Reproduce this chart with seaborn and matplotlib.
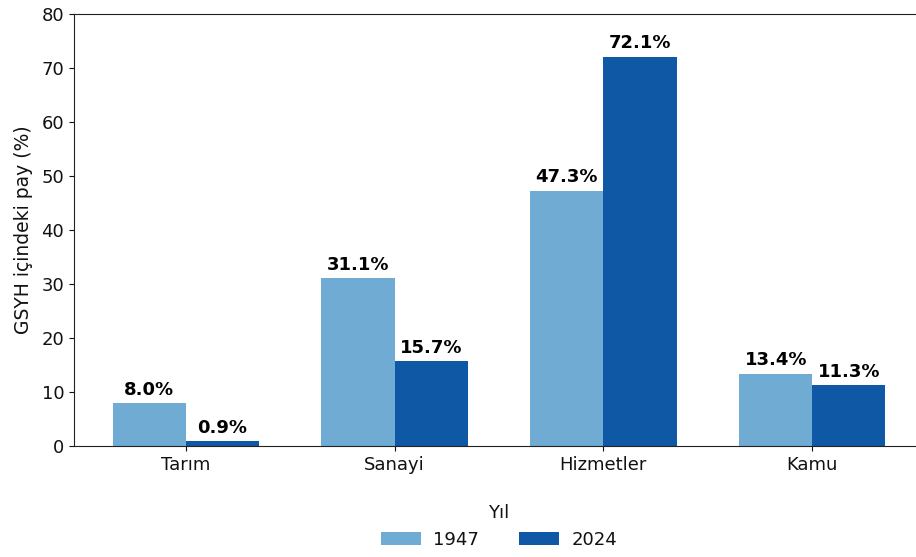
import matplotlib
matplotlib.use("Agg")
import matplotlib.pyplot as plt
import seaborn as sns
import pandas as pd

categories = ["Tarım", "Sanayi", "Hizmetler", "Kamu"]
years = ["1947", "2024"]
values_1947 = [8.0, 31.1, 47.3, 13.4]
values_2024 = [0.9, 15.7, 72.1, 11.3]
colors = ["#6fabd3", "#0e58a6"]

df = pd.DataFrame({
    "Sektör": categories * 2,
    "Yıl": [years[0]] * 4 + [years[1]] * 4,
    "Pay": values_1947 + values_2024,
})

sns.set_style("ticks")
plt.rcParams["font.family"] = ["DejaVu Sans"]
plt.rcParams["text.color"] = "#111111"
plt.rcParams["axes.labelcolor"] = "#111111"
plt.rcParams["xtick.color"] = "#111111"
plt.rcParams["ytick.color"] = "#111111"

fig = plt.figure(figsize=(9.16, 5.57), dpi=100)
ax = fig.add_axes([74 / 916, 111 / 557, 850 / 916, 432 / 557])

sns.barplot(data=df, x="Sektör", y="Pay", hue="Yıl", palette=colors,
            width=0.7, gap=0, saturation=1, linewidth=0, ax=ax, legend=True)

for cont in ax.containers:
    ax.bar_label(cont, fmt="%.1f%%", padding=3, fontsize=13, fontweight="bold",
                 color="black")

ax.set_xlim(-0.535, 3.535)
ax.set_ylim(0, 80)
ax.set_xlabel("")
ax.set_ylabel("GSYH içindeki pay (%)", fontsize=13.5, labelpad=6)
ax.tick_params(axis="both", labelsize=13)
for s in ax.spines.values():
    s.set_visible(True)
    s.set_color("#222222")
ax.spines["right"].set_visible(False)

ax.get_legend().remove()
handles, labels = ax.get_legend_handles_labels()
ax.legend(handles, labels, title="Yıl", loc="upper center", ncol=2,
          bbox_to_anchor=(0.5, -0.096), frameon=False,
          fontsize=13, title_fontsize=13, handlelength=2.2,
          handletextpad=0.7, columnspacing=2.2)

fig.savefig("out.png", dpi=100)
